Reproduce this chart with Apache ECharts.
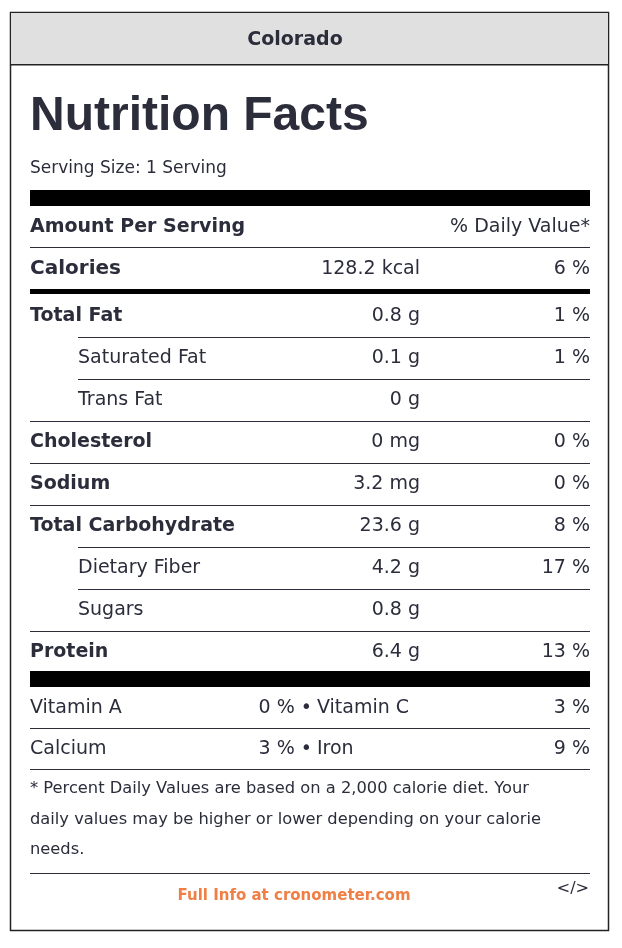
<!DOCTYPE html>
<html><head><meta charset="utf-8">
<script src="https://cdn.jsdelivr.net/npm/echarts@6/dist/echarts.min.js"></script>
<style>html,body{margin:0;padding:0;background:#fff}#c{width:622px;height:948px}</style>
</head><body><div id="c"></div>
<script>
const title = "Colorado";
const servingSize = "Serving Size: 1 Serving";
const calories = "128.2 kcal";
const caloriesDV = "6 %";
const nutrients = ["Total Fat","Saturated Fat","Trans Fat","Cholesterol","Sodium","Total Carbohydrate","Dietary Fiber","Sugars","Protein"];
const amounts = ["0.8 g","0.1 g","0 g","0 mg","3.2 mg","23.6 g","4.2 g","0.8 g","6.4 g"];
const dailyValues = ["1 %","1 %","","0 %","0 %","8 %","17 %","","13 %"];
const indented = [false,true,true,false,false,false,true,true,false];
const vitamins = [["Vitamin A","0 %","Vitamin C","3 %"],["Calcium","3 %","Iron","9 %"]];
const footnote = ["* Percent Daily Values are based on a 2,000 calorie diet. Your","daily values may be higher or lower depending on your calorie","needs."];

const C = "#2b2d3b", F = "DejaVu Sans, sans-serif", FL = "Liberation Sans, Arial, sans-serif";
const g = [];
function t(x,y,s,o){g.push({type:'text',x:x,y:y,style:Object.assign({text:s,fill:C,font:'18px '+F,textVerticalAlign:'middle',textAlign:'left'},o||{})});}
function r(x,y,w,h,fill){g.push({type:'rect',shape:{x:x,y:y,width:w,height:h},style:{fill:fill||'#000'}});}
const L=30, R=590, V=420, W=R-L;
g.push({type:'rect',shape:{x:10.5,y:12.5,width:598,height:918},style:{fill:'#fff',stroke:'#222',lineWidth:1.5}});
g.push({type:'rect',shape:{x:11,y:13,width:597,height:51},style:{fill:'#e0e0e0'}});
r(11,64,597,1.5,'#222');
t(295,40,title,{font:'bold 19px '+F,textAlign:'center'});
t(L,117,"Nutrition Facts",{font:'bold 48px '+FL});
t(L,169,servingSize,{font:'17px '+F});
r(L,190,W,16);
t(L,227,"Amount Per Serving",{font:'bold 19px '+F});
t(R,227,"% Daily Value*",{textAlign:'right',font:'19px '+F});
r(L,247,W,1,C);
t(L,269,"Calories",{font:'bold 20px '+F});
t(V,269,calories,{textAlign:'right',font:'19px '+F});
t(R,269,caloriesDV,{textAlign:'right',font:'19px '+F});
r(L,289,W,5);
nutrients.forEach((n,i)=>{
  const y=316+i*42;
  t(indented[i]?78:L,y,n,{font:(indented[i]?'':'bold ')+'19px '+F});
  t(V,y,amounts[i],{textAlign:'right',font:'19px '+F});
  if(dailyValues[i]) t(R,y,dailyValues[i],{textAlign:'right',font:'19px '+F});
  if(i<nutrients.length-1) r(indented[i+1]?78:L,y+21,indented[i+1]?R-78:W,1,C);
});
r(L,671,W,16);
vitamins.forEach((v,i)=>{
  const y=708+i*41;
  t(L,y,v[0],{font:'19px '+F});
  t(312,y,v[1]+" \u2022",{textAlign:'right',font:'19px '+F});
  t(317,y,v[2],{font:'19px '+F});
  t(R,y,v[3],{textAlign:'right',font:'19px '+F});
  r(L,y+20,W,1,C);
});
footnote.forEach((s,i)=>t(L,789+i*30.5,s,{font:'16.3px '+F}));
r(L,873,W,1,C);
t(294,896,"Full Info at cronometer.com",{textAlign:'center',font:'bold 15px '+F,fill:'#f07f45'});
t(589,889,"</>",{textAlign:'right',font:'16px '+F});
const chart=echarts.init(document.getElementById('c'));
chart.setOption({animation:false,graphic:{elements:g}});
</script></body></html>
